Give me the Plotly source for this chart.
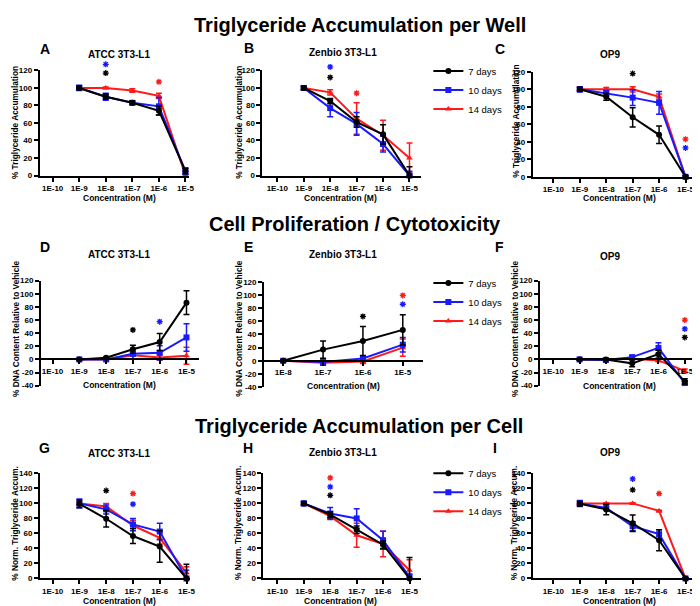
import plotly.graph_objects as go

W, H = 700, 606

# ---------------- data ----------------
TICK_EXP = [-10, -9, -8, -7, -6, -5]
TICK_LABELS = ["1E-10", "1E-9", "1E-8", "1E-7", "1E-6", "1E-5"]
TICK_EXP_E = [-8, -7, -6, -5]
TICK_LABELS_E = ["1E-8", "1E-7", "1E-6", "1E-5"]

conc_exp = [-9, -8, -7, -6, -5]      # log10 concentration (M)
conc_exp_E = [-8, -7, -6, -5]

SERIES = ["7 days", "10 days", "14 days"]
COLORS = ["#000000", "#1a1aff", "#ff1a1a"]
SYMBOLS = ["circle", "square", "triangle-up"]

# Row 1: Triglyceride Accumulation per Well
A_y = [[100, 90, 83, 74, 5], [100, 90, 83, 79, 5], [100, 100, 97, 91, 0]]
A_e = [[2, 3, 2, 5, 3], [3, 4, 2, 10, 4], [1, 1, 2, 3, 1]]
B_y = [[100, 85, 61, 47, 0], [100, 77, 59, 36, 0], [100, 95, 65, 46, 20]]
B_e = [[2, 3, 6, 11, 10], [2, 10, 13, 9, 5], [2, 3, 18, 17, 17]]
C_y = [[100, 91.5, 68, 48, 0], [100, 95.5, 90.5, 84.5, 0], [100, 100, 100, 91.5, 0]]
C_e = [[2, 4, 11, 10, 1], [3, 3, 9, 13, 1], [2, 2, 3, 3, 1]]

# Row 2: Cell Proliferation / Cytotoxicity
D_y = [[0, 2.5, 15.5, 26.5, 86.5], [0, 0, 8.5, 10, 33.5], [0, 0, 6.5, 3, 5.5]]
D_e = [[1, 1, 6, 13, 18], [1, 1, 8, 11, 21], [1, 1, 6, 4, 13]]
E_y = [[0, 17, 30, 47], [0, -2, 3.5, 24.5], [0, -3, -1, 20]]
E_e = [[1, 13, 22, 23], [1, 5, 4, 11], [1, 3, 3, 13]]
F_y = [[0, 0, -6, 8, -33.5], [0, -1, 3.5, 17.5, -36], [0, 0, 1, -1.5, -17.5]]
F_e = [[1, 1, 5, 6, 4], [1, 1, 2, 8, 3], [1, 1, 1, 2, 3]]

# Row 3: Triglyceride Accumulation per Cell
G_y = [[99.5, 79.5, 56.5, 42.5, 0], [100, 92, 72, 62.5, 0], [100, 96, 70.5, 54, 7.5]]
G_e = [[5, 11, 10, 21, 19], [6, 6, 8, 11, 11], [3, 4, 7, 8, 8]]
H_y = [[100, 85, 65, 45, 0], [100, 86.5, 80, 51, 2], [100, 83, 57.5, 46, 11]]
H_e = [[2, 4, 5, 5, 28], [3, 8, 13, 12, 4], [2, 3, 16, 17, 14]]
I_y = [[99.5, 92, 73.5, 51, 0], [100, 94, 69.5, 59, 0], [100, 100, 100, 90, 0]]
I_e = [[3, 7, 11, 14, 1], [4, 2, 6, 6, 1], [1, 1, 1, 1, 1]]

# significance stars: x (log conc), y, series index (colour)
A_star = ([-8, -8, -6], [127, 117, 107], [1, 0, 2])
B_star = ([-8, -8, -7], [124, 112, 94], [1, 0, 2])
C_star = ([-7, -5, -5], [118, 43, 33], [0, 2, 1])
D_star = ([-7, -6], [45, 57.5], [0, 1])
E_star = ([-6, -5, -5], [67.5, 86, 99.5], [0, 1, 2])
F_star = ([-5, -5, -5], [60, 46.5, 33.5], [2, 1, 0])
G_star = ([-8, -7, -7], [117, 113, 99], [0, 2, 1])
H_star = ([-8, -8, -8], [134, 122, 110.7], [2, 1, 0])
I_star = ([-7, -7, -6], [132.6, 118, 113], [1, 0, 2])

ROW_TITLES = ["Triglyceride Accumulation per Well",
              "Cell Proliferation / Cytotoxicity",
              "Triglyceride Accumulation per Cell"]
Y_TITLES = ["% Triglyceride Accumulation",
            "% DNA Content Relative to Vehicle",
            "% Norm. Triglyceride Accum."]
X_TITLE = "Concentration (M)"
CELL_LINES = ["ATCC 3T3-L1", "Zenbio 3T3-L1", "OP9"]
LETTERS = ["A", "B", "C", "D", "E", "F", "G", "H", "I"]

Y_TICKS = [[0, 20, 40, 60, 80, 100, 120],
           [-40, -20, 0, 20, 40, 60, 80, 100, 120],
           [0, 20, 40, 60, 80, 100, 120, 140]]

panels_data = [
    (conc_exp, A_y, A_e, A_star), (conc_exp, B_y, B_e, B_star), (conc_exp, C_y, C_e, C_star),
    (conc_exp, D_y, D_e, D_star), (conc_exp_E, E_y, E_e, E_star), (conc_exp, F_y, F_e, F_star),
    (conc_exp, G_y, G_e, G_star), (conc_exp, H_y, H_e, H_star), (conc_exp, I_y, I_e, I_star),
]

# ---------------- layout geometry (pixels) ----------------
# x0, x1, ytop, ybottom, x-range, y-range
BOX = [
    (32, 183, 59.3, 166, [-10.485, -4.85], [0, 120]),
    (256.7, 416.7, 59.3, 166, [-10.56, -4.56], [0, 120]),
    (529.3, 692.7, 60.7, 167.3, [-10.78, -4.65], [0, 120]),
    (33.3, 193, 272.7, 379.3, [-10.43, -4.52], [-40, 120]),
    (258.3, 418.3, 274, 380.7, [-8.48, -4.5], [-40, 120]),
    (536.7, 696.7, 272.7, 379.3, [-10.5, -4.47], [-40, 120]),
    (32.3, 183.3, 468.3, 575, [-10.47, -4.88], [0, 140]),
    (257.7, 416.7, 468.3, 575, [-10.525, -4.56], [0, 140]),
    (529.3, 692.7, 468.3, 575, [-10.78, -4.65], [0, 140]),
]
LETTER_POS = [(37, 38), (243, 37), (496, 38), (37, 239), (243, 239), (496, 239),
              (37, 443), (242, 443), (491, 443)]
SUB_POS = [(112, 42.7), (338, 40.7), (607.5, 42.7), (112, 245.7), (338, 245.7), (607.5, 247.7),
           (112, 448.3), (338, 447.3), (607.5, 447.3)]
YT_POS = [(7.3, 112.5), (233, 112.5), (512.7, 111), (7.3, 321.5), (233, 321.5), (510.7, 321.5),
          (6.7, 518.7), (232, 518.7), (510.7, 518.7)]
XT_POS = [(112.7, 189.3), (335, 189.3), (616.7, 189.3), (112.7, 378.3), (338, 379.3), (616.7, 379.3),
          (112.7, 597.7), (335, 597.7), (616.7, 597.7)]
TITLE_POS = [(355, 13), (350.5, 215), (354, 420)]
LEGEND_Y = [79.3, 294.3, 487.5]
STAR_EXTRA = 30  # extra data units above the axis top for the (hidden) star axes

FONT = "Liberation Sans, Arial, sans-serif"


def fx(px):
    return px / W


def fy(py):
    return 1 - py / H


fig = go.Figure()
layout = dict(
    width=W, height=H, margin=dict(l=0, r=0, t=0, b=0),
    paper_bgcolor="white", plot_bgcolor="rgba(0,0,0,0)",
    font=dict(family=FONT, color="black"),
    annotations=[],
)

for i, (xs, ys, es, stars) in enumerate(panels_data):
    n = i + 1
    row = i // 3
    col = i % 3
    x0, x1, yt, yb, xr, yr = BOX[i]
    xk = "xaxis" if n == 1 else f"xaxis{n}"
    yk = "yaxis" if n == 1 else f"yaxis{n}"
    xref = "x" if n == 1 else f"x{n}"
    yref = "y" if n == 1 else f"y{n}"
    sk = f"yaxis{n + 9}"
    sref = f"y{n + 9}"

    tv, tt = (TICK_EXP_E, TICK_LABELS_E) if i == 4 else (TICK_EXP, TICK_LABELS)
    axis_common = dict(showline=True, linewidth=2, linecolor="black", ticks="outside",
                       ticklen=4, tickwidth=2, tickcolor="black", showgrid=False,
                       zeroline=False, fixedrange=True,
                       tickfont=dict(family=FONT, size=8, color="black", weight="bold"))
    xa = dict(domain=[fx(x0), fx(x1)], range=xr, tickvals=tv, ticktext=tt, **axis_common)
    if row == 1:
        frac = (0 - yr[0]) / (yr[1] - yr[0])
        xa.update(anchor="free", position=fy(yb) + frac * (fy(yt) - fy(yb)))
    else:
        xa.update(anchor=yref)
    yticks = Y_TICKS[row]
    ya = dict(domain=[fy(yb), fy(yt)], range=yr, anchor=xref, tickvals=yticks,
              ticktext=[str(v) for v in yticks], **axis_common)
    layout[xk] = xa
    layout[yk] = ya
    # hidden axis with identical scale, extended upward, for significance stars
    ppu = (yb - yt) / (yr[1] - yr[0])
    layout[sk] = dict(domain=[fy(yb), fy(yt - STAR_EXTRA * ppu)],
                      range=[yr[0], yr[1] + STAR_EXTRA], anchor=xref, visible=False,
                      fixedrange=True, showgrid=False, zeroline=False)

    legend_key = "legend" if row == 0 else f"legend{row + 1}"
    for k in (2, 1, 0):
        fig.add_trace(go.Scatter(
            x=xs, y=ys[k], xaxis=xref, yaxis=yref,
            mode="lines+markers", name=SERIES[k],
            line=dict(color=COLORS[k], width=2),
            marker=dict(symbol=SYMBOLS[k], size=6, color=COLORS[k]),
            error_y=dict(type="data", array=es[k], color=COLORS[k], thickness=1.5, width=3),
            legend=legend_key, showlegend=(col == 1), cliponaxis=False, hoverinfo="skip",
        ))
    sx, sy, sc = stars
    star_cols = [COLORS[c] for c in sc]
    fig.add_trace(go.Scatter(
        x=sx, y=sy, xaxis=xref, yaxis=sref, mode="markers",
        marker=dict(symbol="asterisk-open", size=5, color=star_cols,
                    line=dict(width=1.3, color=star_cols)),
        showlegend=False, cliponaxis=False, hoverinfo="skip",
    ))

    ann = layout["annotations"]
    lx, ly = LETTER_POS[i]
    ann.append(dict(text=LETTERS[i], x=fx(lx), y=fy(ly), xref="paper", yref="paper",
                    showarrow=False, xanchor="center", yanchor="middle",
                    font=dict(family=FONT, size=14, weight="bold")))
    sxp, syp = SUB_POS[i]
    ann.append(dict(text=CELL_LINES[col], x=fx(sxp), y=fy(syp), xref="paper", yref="paper",
                    showarrow=False, xanchor="center", yanchor="middle",
                    font=dict(family=FONT, size=10, weight="bold")))
    ytx, yty = YT_POS[i]
    ann.append(dict(text=Y_TITLES[row], x=fx(ytx), y=fy(yty), xref="paper", yref="paper",
                    showarrow=False, xanchor="center", yanchor="middle", textangle=-90,
                    font=dict(family=FONT, size=8.3, weight="bold")))
    xtx, xty = XT_POS[i]
    ann.append(dict(text=X_TITLE, x=fx(xtx), y=fy(xty), xref="paper", yref="paper",
                    showarrow=False, xanchor="center", yanchor="middle",
                    font=dict(family=FONT, size=8.5, weight="bold")))

for r in range(3):
    tx, ty = TITLE_POS[r]
    layout["annotations"].append(dict(text=ROW_TITLES[r], x=fx(tx), y=fy(ty), xref="paper",
                                      yref="paper", showarrow=False, xanchor="center",
                                      yanchor="middle",
                                      font=dict(family=FONT, size=20, weight="bold")))
    key = "legend" if r == 0 else f"legend{r + 1}"
    layout[key] = dict(x=fx(424), y=fy(LEGEND_Y[r]), xanchor="left", yanchor="middle",
                       bgcolor="rgba(0,0,0,0)", traceorder="reversed", itemwidth=30,
                       font=dict(family=FONT, size=9.5, color="black"))

fig.update_layout(**layout)
fig.write_html("out.html")
